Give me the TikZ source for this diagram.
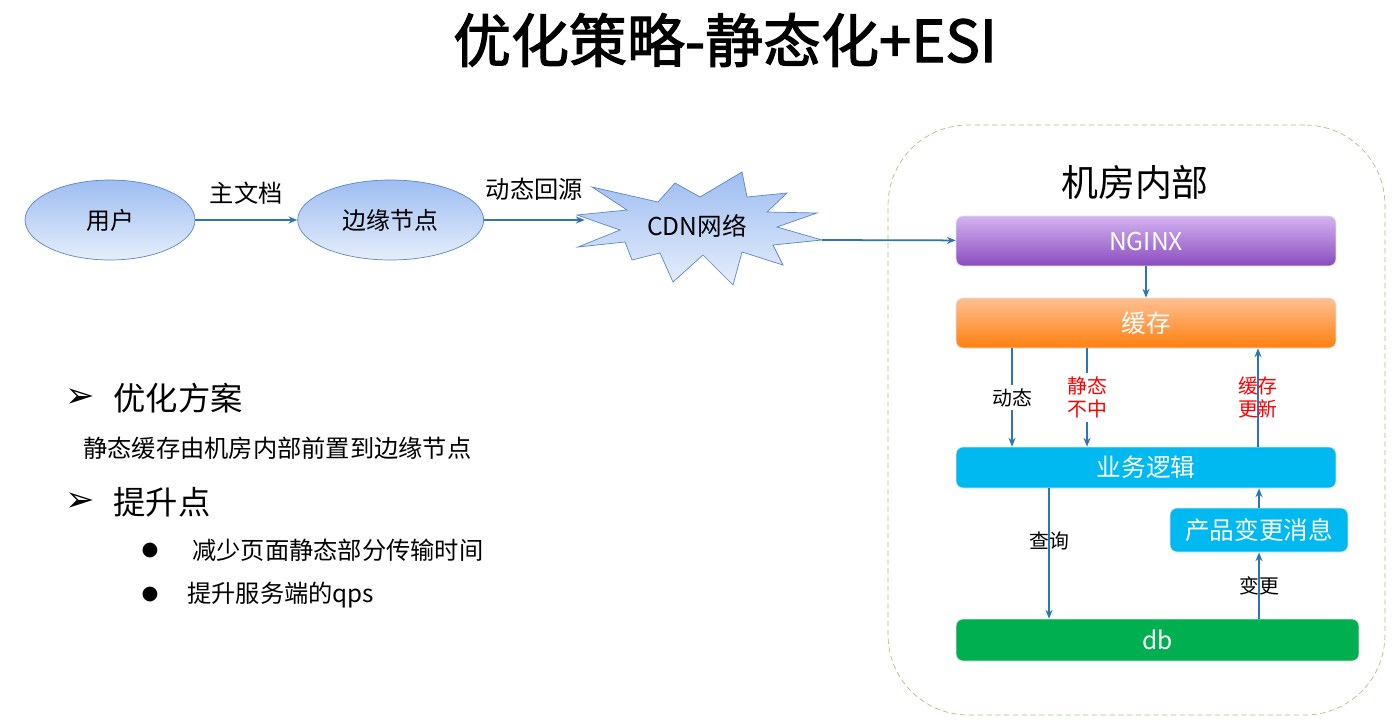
\documentclass[tikz,border=0pt]{standalone}
\usepackage{fontspec}
\setmainfont{Noto Sans CJK SC}
\newfontfamily\titlefont[FakeBold=2]{Noto Sans CJK SC}
\newfontfamily\symfont{DejaVu Sans}
\usetikzlibrary{arrows.meta, positioning, shapes.geometric}

\definecolor{linkblue}{HTML}{2E75B6}
\definecolor{ellborder}{HTML}{5B86C8}
\definecolor{elltop}{HTML}{9DBDF2}
\definecolor{ellbot}{HTML}{E6EEFB}
\definecolor{ngtop}{HTML}{D4B3F2}
\definecolor{ngbot}{HTML}{8A4CBE}
\definecolor{cachetop}{HTML}{FFC092}
\definecolor{cachebot}{HTML}{FF7F0E}
\definecolor{logicblue}{HTML}{00B9F1}
\definecolor{dbgreen}{HTML}{00B050}
\definecolor{roomgreen}{HTML}{9CC97F}
\definecolor{notered}{HTML}{FF0000}

\begin{document}
\begin{tikzpicture}[
    x=0.02cm, y=-0.02cm,
    >=Stealth,
    every node/.style={inner sep=0pt},
    link/.style={->, draw=linkblue, line width=1pt, >={Stealth[length=5pt,width=4pt]}},
    client/.style={ellipse, draw=ellborder, top color=elltop, bottom color=ellbot, minimum height=1.6cm, font=\fontsize{13.6}{16}\selectfont},
    layer/.style={rounded corners=4pt, draw=black!12, minimum width=7.6cm, minimum height=1cm, text=white, font=\fontsize{14}{16}\selectfont},
    tag/.style={font=\fontsize{11.3}{13.5}\selectfont, align=center, inner sep=2pt},
    point/.style={font=\fontsize{13.8}{16}\selectfont},
    head/.style={font=\fontsize{18.4}{22}\selectfont}
]
    \useasboundingbox (0,0) rectangle (1397,727);

    \node[font=\titlefont\fontsize{33}{40}\selectfont] (title) at (725,40) {优化策略-静态化+ESI};

    \node[client, minimum width=3.4cm] (user) at (110,220) {用户};
    \node[client, minimum width=3.72cm, right=2.04cm of user] (edge) {边缘节点};

    \draw[draw=ellborder, top color=elltop, bottom color=ellbot]
        (592,187) -- (658,202) -- (675,183) -- (700,197) -- (742,172) -- (747,197)
        -- (787,193) -- (767,212) -- (817,213) -- (777,227) -- (822,240) -- (773,245)
        -- (783,265) -- (742,252) -- (733,285) -- (703,255) -- (673,282) -- (660,253)
        -- (632,260) -- (625,242) -- (578,247) -- (620,230) -- (577,215) -- (627,210) -- cycle;
    \node[minimum width=4.48cm, minimum height=2cm, font=\fontsize{14}{16}\selectfont] (cdn) at (697,226) {CDN网络};
    \coordinate (cdntip) at (822,240);

    \draw[link] (user) -- (edge) node[midway, above=0.3cm, point] {主文档};
    \draw[link] (edge) -- (edge.east -| cdn.west) node[midway, above=0.38cm, point] {动态回源};

    \node[draw=roomgreen, densely dashed, rounded corners=1.6cm, minimum width=9.94cm, minimum height=11.8cm] (room) at (1136.5,420) {};
    \node[font=\fontsize{21}{24}\selectfont] (roomname) at (1135,182) {机房内部};

    \node[layer, top color=ngtop, bottom color=ngbot] (nginx) at (1146,241) {NGINX};
    \node[layer, top color=cachetop, bottom color=cachebot] (cache) at (1146,323) {缓存};
    \node[layer, fill=logicblue, minimum height=0.82cm] (logic) at (1146,467.5) {业务逻辑};
    \node[layer, fill=logicblue, minimum width=3.56cm, minimum height=0.88cm] (msg) at (1259,530) {产品变更消息};
    \node[layer, fill=dbgreen, minimum width=8.06cm, minimum height=0.84cm] (db) at (1157.5,640) {db};

    \draw[link] (cdntip) -- (nginx);
    \draw[link] (nginx) -- (cache);
    \draw[link] ([xshift=-2.68cm]cache.south) -- ([xshift=-2.68cm]logic.north)
        node[midway, tag, fill=white] {动态};
    \draw[link] ([xshift=-1.18cm]cache.south) -- ([xshift=-1.18cm]logic.north)
        node[midway, tag, fill=white, text=notered] {静态\\不中};
    \draw[link] ([xshift=2.24cm]logic.north) -- ([xshift=2.24cm]cache.south)
        node[midway, tag, text=notered] {缓存\\更新};
    \draw[link] ([xshift=-1.94cm]logic.south) -- ([xshift=-1.94cm]logic.south |- db.north)
        node[pos=0.4, tag] {查询};
    \draw[link] (msg.north) -- (msg.north |- logic.south);
    \draw[link] (db.north -| msg) -- (msg.south) node[midway, tag] {变更};

    \node[font=\symfont\fontsize{20}{22}\selectfont] (mark1) at (80,398) {➢};
    \node[head, anchor=west] (plan) at (113,398) {优化方案};
    \node[point, anchor=west] (plantext) at (83,448) {静态缓存由机房内部前置到边缘节点};
    \node[font=\symfont\fontsize{20}{22}\selectfont] (mark2) at (80,502) {➢};
    \node[head, anchor=west] (gain) at (113,502) {提升点};
    \node[font=\symfont\fontsize{11}{13}\selectfont] (dot1) at (150,550) {●};
    \node[point, anchor=west] (gain1) at (192,550) {减少页面静态部分传输时间};
    \node[font=\symfont\fontsize{11}{13}\selectfont] (dot2) at (150,594) {●};
    \node[point, anchor=west] (gain2) at (187,595) {提升服务端的qps};
\end{tikzpicture}
\end{document}
